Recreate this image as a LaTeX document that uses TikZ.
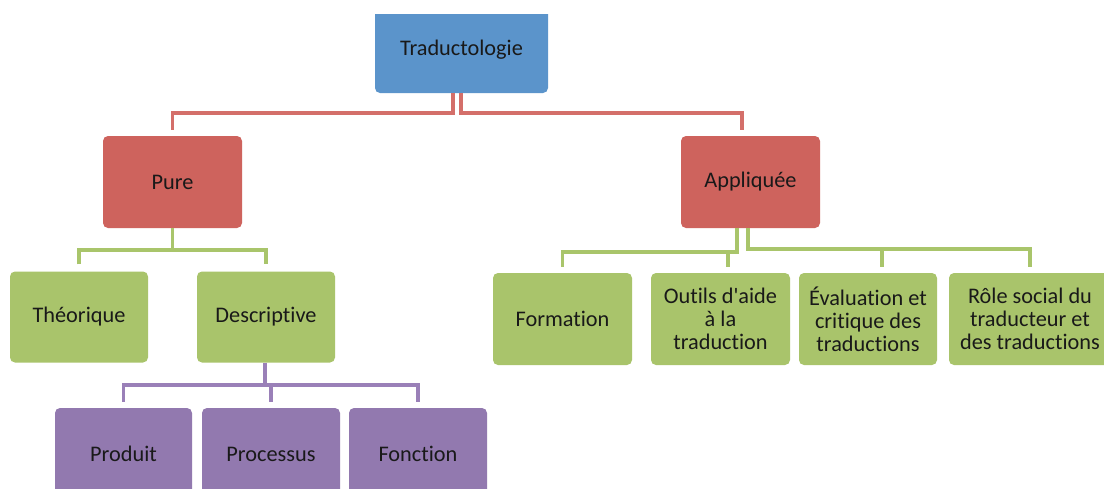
\documentclass[tikz,border=0pt]{standalone}
\usepackage{fontspec}
\setmainfont{Carlito}[Ligatures={TeX,NoCommon}]
\newfontfamily\plainfont{Carlito}[Ligatures=NoCommon]
\usetikzlibrary{calc}
\definecolor{cblue}{HTML}{5B94CB}
\definecolor{cred}{HTML}{CE635D}
\definecolor{cgreen}{HTML}{A9C46B}
\definecolor{cpurple}{HTML}{9279AF}
\definecolor{lred}{HTML}{D46F6A}
\definecolor{lgreen}{HTML}{A9C56B}
\definecolor{lpurple}{HTML}{9A80B8}
\tikzset{
  box/.style={rectangle, rounded corners=5pt, inner sep=0pt, align=center,
    font=\fontsize{22.3}{23}\selectfont, text=black!90},
  bluebox/.style={box, fill=cblue, minimum width=173pt, minimum height=86pt},
  redbox/.style={box, fill=cred, minimum width=139pt, minimum height=92pt},
  greenbox/.style={box, fill=cgreen, minimum width=139pt, minimum height=91pt},
  purplebox/.style={box, fill=cpurple, minimum width=138pt, minimum height=92pt},
  conn/.style={line width=3.6pt, line join=miter},
  redln/.style={conn, draw=lred},
  grnln/.style={conn, draw=lgreen},
  purln/.style={conn, draw=lpurple},
}
\begin{document}
\begin{tikzpicture}[x=1pt,y=-1pt]
\useasboundingbox[fill=white] (0,0) rectangle (1104,488);
\begin{scope}
\clip (0,14) rectangle (1104,488);
% nodes
\node[bluebox] (trad) at (461.5,50) {Traductologie};
\node[redbox] (pure) at (172.5,182) {Pure};
\node[redbox] (appl) at (750.5,182) {Appliquée};
\node[greenbox, minimum width=138pt] (theo) at (79,317) {Théorique};
\node[greenbox, minimum width=138pt] (desc) at (266,317) {Descriptive};
\node[greenbox, minimum height=92pt] (form) at (562.5,319) {Formation};
\node[greenbox, minimum height=92pt] (outils) at (720.5,319) {Outils d{\plainfont '}aide\\à la\\traduction};
\node[greenbox, minimum height=92pt, minimum width=138pt] (eval) at (868,319) {Évaluation et\\critique des\\traductions};
\node[greenbox, minimum height=92pt, minimum width=162pt] (role) at (1030,319) {Rôle social du\\traducteur et\\des traductions};
\node[purplebox, minimum width=137pt] (prod) at (123.5,454) {Produit};
\node[purplebox] (proc) at (271,454) {Processus};
\node[purplebox] (fonc) at (418,454) {Fonction};
% red connectors
\draw[redln] ([xshift=-8.5pt]trad.south) -- ++(0,20) -| ([yshift=6pt]pure.north);
\draw[redln] ([xshift=-0.5pt]trad.south) -- ++(0,20) -| ([xshift=-8.5pt,yshift=6pt]appl.north);
% green connectors (pure)
\draw[grnln] (pure.south) -- ([yshift=-22pt]pure.south);
\draw[grnln] ([yshift=7pt]theo.north) |- ([yshift=-22pt]pure.south) -| ([yshift=7pt]desc.north);
% green connectors (appliquee)
\draw[grnln] ([xshift=-13.5pt]appl.south) |- ([yshift=21pt]form.north) -- ([yshift=6pt]form.north);
\draw[grnln] ([xshift=7.5pt,yshift=21pt]outils.north) -- ([xshift=7.5pt,yshift=6pt]outils.north);
\draw[grnln] ([xshift=-2.5pt]appl.south) |- ([yshift=24pt]role.north) -- ([yshift=6pt]role.north);
\draw[grnln] ([xshift=14pt,yshift=24pt]eval.north) -- ([xshift=14pt,yshift=6pt]eval.north);
% purple connectors
\draw[purln] ([xshift=-1pt]desc.south) -- ([xshift=-1pt,yshift=-23pt]desc.south);
\draw[purln] ([yshift=6pt]prod.north) |- ([yshift=23pt]fonc.north) -- ([yshift=6pt]fonc.north);
\draw[purln] ([yshift=23pt]proc.north) -- ([yshift=6pt]proc.north);
\end{scope}
\end{tikzpicture}
\end{document}
